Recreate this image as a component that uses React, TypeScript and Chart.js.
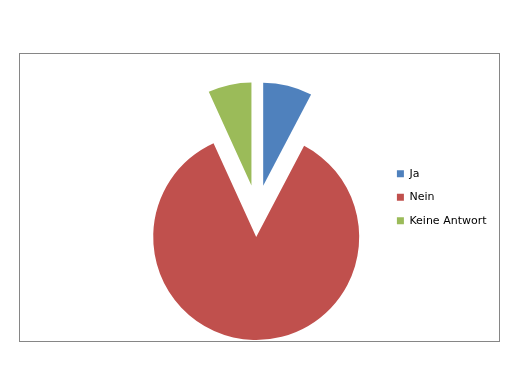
import React, { useEffect, useRef } from "react";
import { Chart, registerables } from "chart.js";

Chart.register(...registerables);

const categories = ["Ja", "Nein", "Keine Antwort"];
const values = [7.7, 85.5, 6.8];
const colors = ["#4F81BD", "#C0504D", "#9BBB59"];

const explodePlugin = {
  id: "explode",
  beforeDatasetDraw(chart: any, args: any, opts: any) {
    const ctx = chart.ctx;
    const d = opts.distance || 0;
    args.meta.data.forEach((arc: any) => {
      const p = arc.getProps(["startAngle", "endAngle"], true);
      const mid = (p.startAngle + p.endAngle) / 2;
      ctx.save();
      ctx.translate(Math.cos(mid) * d, Math.sin(mid) * d);
      arc.draw(ctx);
      ctx.restore();
    });
    return false;
  },
};

export default function App() {
  const ref = useRef<HTMLCanvasElement>(null);
  useEffect(() => {
    if (!ref.current) return;
    const chart = new Chart(ref.current, {
      type: "pie",
      data: {
        labels: categories,
        datasets: [
          {
            data: values,
            backgroundColor: colors,
            borderWidth: 0,
            radius: 103,
          } as any,
        ],
      },
      options: {
        animation: false,
        responsive: false,
        devicePixelRatio: 1,
        layout: { padding: { top: 40, bottom: 11.4, left: 129.5, right: 26.5 } },
        plugins: {
          explode: { distance: 26 },
          title: {
            display: true,
            text: " ",
            font: { size: 12, lineHeight: 1.2 },
            padding: { top: 0, bottom: 13 },
          },
          legend: {
            position: "right",
            labels: {
              boxWidth: 7,
              boxHeight: 7,
              padding: 12.5,
              color: "#000",
              font: { family: "'DejaVu Sans'", size: 11 },
            },
          },
          tooltip: { enabled: false },
        },
      } as any,
      plugins: [explodePlugin],
    });
    return () => chart.destroy();
  }, []);
  return (
    <div style={{ position: "absolute", left: 0, top: 0, width: 523, height: 366, background: "#fff" }}>
      <div
        style={{
          position: "absolute",
          left: 19,
          top: 53,
          width: 481,
          height: 289,
          boxSizing: "border-box",
          border: "1px solid #868686",
        }}
      />
      <canvas ref={ref} width={523} height={366} style={{ position: "absolute", left: 0, top: 0 }} />
    </div>
  );
}
